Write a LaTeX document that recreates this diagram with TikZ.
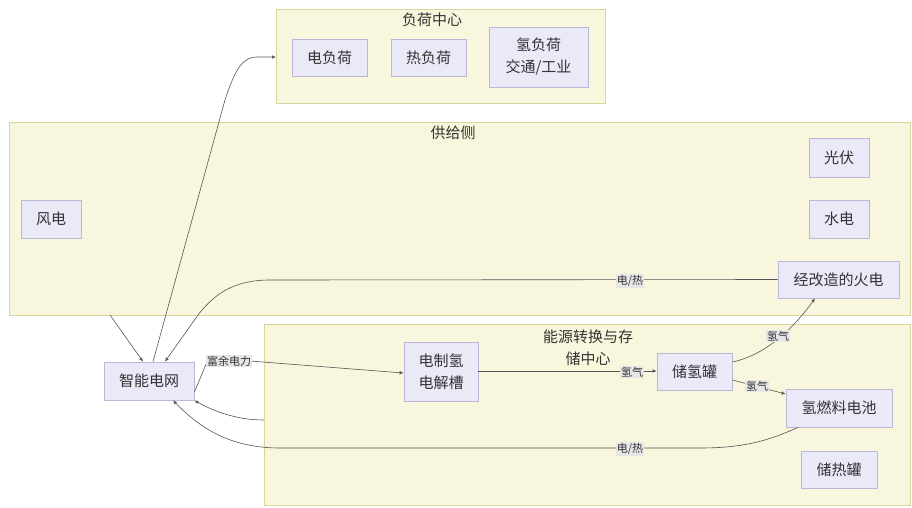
\documentclass[tikz,border=0pt]{standalone}
\usepackage{fontspec}
\newfontfamily\cjk{Noto Sans CJK SC}
\usetikzlibrary{arrows.meta,calc}
\definecolor{clfill}{HTML}{F8F6DC}
\definecolor{cldraw}{HTML}{D9D59C}
\definecolor{ndfill}{HTML}{E9E9F8}
\definecolor{nddraw}{HTML}{BDB6DA}
\definecolor{edge}{HTML}{555555}
\definecolor{txt}{HTML}{333333}
\definecolor{lblbg}{HTML}{E6E6E6}
\tikzset{
  cluster/.style={draw=cldraw,fill=clfill,line width=0.8pt},
  box/.style={draw=nddraw,fill=ndfill,line width=0.8pt,inner sep=0pt,
    font=\cjk\fontsize{15}{22}\selectfont,text=txt,align=center},
  ctitle/.style={font=\cjk\fontsize{15}{22}\selectfont,text=txt,align=center},
  lbl/.style={fill=lblbg,inner sep=1pt,font=\cjk\fontsize{11}{13}\selectfont,text=txt},
  conn/.style={draw=edge,line width=0.6pt,-{Latex[length=4pt,width=3.5pt]}},
}
\begin{document}
\begin{tikzpicture}[x=1pt,y=-1pt]
\useasboundingbox[fill=white] (0,0) rectangle (912,507);
% clusters
\draw[cluster] (276,9) rectangle (605,103);
\node[ctitle] (tload) at (432,20) {负荷中心};
\draw[cluster] (9,122) rectangle (910,315);
\node[ctitle] (tsup) at (453,133) {供给侧};
\draw[cluster] (264,324) rectangle (910,505);
\node[ctitle] (ten) at (588,348) {能源转换与存\\储中心};
% nodes
\node[box,minimum width=75pt,minimum height=37pt] (eload) at (329.5,57.5) {电负荷};
\node[box,minimum width=75pt,minimum height=37pt] (hload) at (428.5,57.5) {热负荷};
\node[box,minimum width=99pt,minimum height=60pt] (h2load) at (538.5,57) {氢负荷\\交通/工业};
\node[box,minimum width=60pt,minimum height=38pt] (wind) at (51,219) {风电};
\node[box,minimum width=60pt,minimum height=39pt] (pv) at (839,157.5) {光伏};
\node[box,minimum width=60pt,minimum height=38pt] (hydro) at (839,219) {水电};
\node[box,minimum width=121pt,minimum height=37pt] (fire) at (838.5,279.5) {经改造的火电};
\node[box,minimum width=90pt,minimum height=38pt] (grid) at (149,381) {智能电网};
\node[box,minimum width=74pt,minimum height=59pt] (elec) at (441,371.5) {电制氢\\电解槽};
\node[box,minimum width=75pt,minimum height=37pt] (tank) at (694.5,371.5) {储氢罐};
\node[box,minimum width=106pt,minimum height=38pt] (fc) at (839,408) {氢燃料电池};
\node[box,minimum width=76pt,minimum height=37pt] (heat) at (839,469.5) {储热罐};
% coordinates on cluster borders
\coordinate (supS) at (110,315);
\coordinate (loadW) at (276,57);
\coordinate (enW) at (264,420);
% edges
\draw[conn] (supS) -- ([xshift=-6pt]grid.north);
\draw[conn] ([xshift=4pt]grid.north) -- (225,100) .. controls (236,66) and (244,57) .. (257,57) -- (loadW);
\draw[conn] (fire.west) -- (270,280) .. controls (235,280) and (215,293) .. (198,315) -- ([xshift=16pt]grid.north);
\node[lbl] (l1) at (630,281) {电/热};
\draw[conn] ([yshift=-11pt]grid.east) -- (207,362) -- (250,361) -- ([yshift=-1.5pt]elec.west);
\node[lbl] (l2) at (229,361) {富余电力};
\draw[conn] ([yshift=0.5pt]elec.east) -- ([yshift=0.5pt]tank.west);
\node[lbl] (l3) at (632,372) {氢气};
\draw[conn] ([yshift=9.5pt]tank.east) .. controls (765,355) and (792,330) .. ([xshift=-23.5pt]fire.south);
\node[lbl] (l4) at (778,336) {氢气};
\draw[conn] ([yshift=-8.5pt]tank.east) -- ([yshift=14pt]fc.west);
\node[lbl] (l5) at (757,386) {氢气};
\draw[conn] ([xshift=-41pt]fc.south) .. controls (770,440) and (745,448) .. (700,448) -- (280,448) .. controls (230,448) and (200,428) .. ([xshift=24pt]grid.south);
\node[lbl] (l6) at (630,449) {电/热};
\draw[conn] (enW) .. controls (238,420) and (215,412) .. (grid.south east);
\end{tikzpicture}
\end{document}
